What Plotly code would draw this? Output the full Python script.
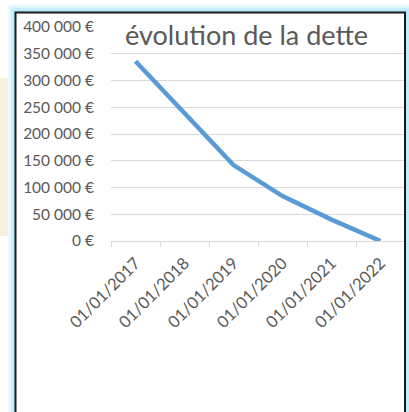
import plotly.graph_objects as go

W, H = 409, 412

# ---- data ----
dates = ["01/01/2017", "01/01/2018", "01/01/2019", "01/01/2020", "01/01/2021", "01/01/2022"]
dette = [336000, 240000, 142000, 84000, 40000, 0]
y_ticks = [0, 50000, 100000, 150000, 200000, 250000, 300000, 350000, 400000]
y_tick_labels = ["0 €", "50 000 €", "100 000 €", "150 000 €", "200 000 €",
                 "250 000 €", "300 000 €", "350 000 €", "400 000 €"]
title_text = "évolution de la dette"


def px(x):
    return x / W


def py(y):
    return 1 - y / H


FONT = "Lato, Calibri, Carlito, sans-serif"
GREY = "#595959"
GRID = "#d9d9d9"

fig = go.Figure()
fig.add_trace(go.Scatter(
    x=dates, y=dette, mode="lines",
    line=dict(color="#5b9bd5", width=4.5, shape="linear"),
    hoverinfo="skip", showlegend=False,
))

shapes = []
# beige patch at left edge
shapes.append(dict(type="rect", xref="paper", yref="paper",
                   x0=px(0), x1=px(8), y0=py(236), y1=py(78),
                   fillcolor="#f7f0dd", line=dict(width=0), layer="below"))
# cyan glow (nested rectangles)
glow = [(8, "rgba(150,225,250,0.12)"), (6, "rgba(150,225,250,0.22)"),
        (4, "rgba(150,225,250,0.32)"), (2, "rgba(150,225,250,0.45)")]
for g, c in glow:
    shapes.append(dict(type="rect", xref="paper", yref="paper",
                       x0=px(15.5 - g), x1=px(405 + g), y0=py(420), y1=py(12 - g),
                       fillcolor=c, line=dict(width=0), layer="below"))
# white chart area
shapes.append(dict(type="rect", xref="paper", yref="paper",
                   x0=px(15.5), x1=px(405), y0=py(420), y1=py(12),
                   fillcolor="white", line=dict(width=0), layer="below"))
# black border
shapes.append(dict(type="rect", xref="paper", yref="paper",
                   x0=px(15.5), x1=px(405), y0=py(420), y1=py(12.5),
                   fillcolor="rgba(0,0,0,0)", line=dict(color="#1a1a1a", width=2),
                   layer="above"))

fig.update_layout(
    width=W, height=H, autosize=False,
    margin=dict(l=0, r=0, t=0, b=0, pad=0, autoexpand=False),
    paper_bgcolor="white", plot_bgcolor="rgba(0,0,0,0)",
    font=dict(family=FONT, color=GREY),
    shapes=shapes,
    showlegend=False,
    annotations=[dict(text=title_text, xref="paper", yref="paper",
                      x=px(247), y=py(35), xanchor="center", yanchor="middle",
                      showarrow=False, font=dict(family=FONT, size=27, color=GREY))],
    xaxis=dict(
        domain=[px(111), px(405)],
        automargin=False,
        type="category", categoryorder="array", categoryarray=dates,
        range=[-0.5, len(dates) - 0.5],
        tickson="boundaries", ticks="outside", ticklen=5, tickcolor=GRID, tickwidth=1,
        showline=True, linecolor=GRID, linewidth=1,
        showgrid=False, zeroline=False,
        tickangle=-45, ticklabelstandoff=5,
        tickfont=dict(family=FONT, size=16.5, color=GREY),
        fixedrange=True,
    ),
    yaxis=dict(
        domain=[py(241), py(27)],
        automargin=False,
        range=[0, 400000],
        tickmode="array", tickvals=y_ticks, ticktext=y_tick_labels,
        showgrid=True, gridcolor=GRID, gridwidth=1,
        zeroline=False, showline=False, ticks="",
        ticklabelstandoff=16,
        tickfont=dict(family=FONT, size=15.5, color=GREY),
        fixedrange=True,
    ),
)

fig.write_html("out.html", include_plotlyjs=True, config=dict(displayModeBar=False),
               post_script="document.body.style.margin='0';document.body.style.padding='0';"
                           "document.body.style.overflow='hidden';")
